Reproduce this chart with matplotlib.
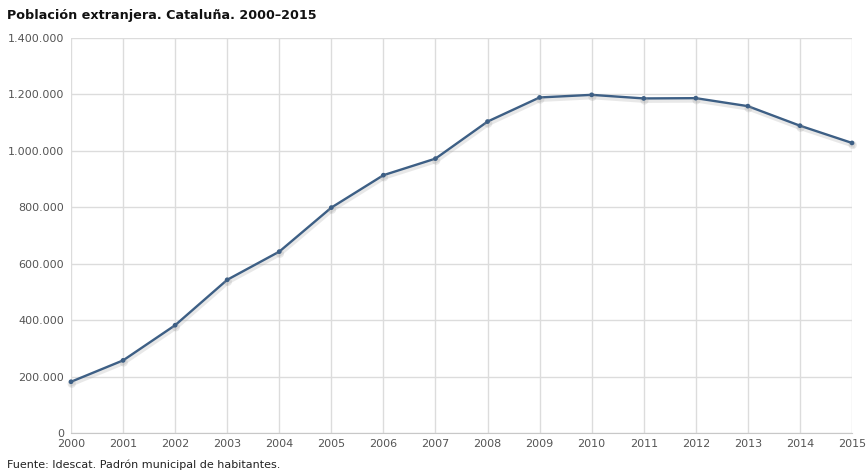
import matplotlib

matplotlib.use("Agg")
import matplotlib.pyplot as plt
import matplotlib.patheffects as pe
from matplotlib.ticker import FuncFormatter

years = list(range(2000, 2016))
poblacion = [181590, 257320, 382020, 543008, 642846, 798904, 913757, 972507,
             1103790, 1189279, 1198538, 1185852, 1186779, 1158472, 1089214, 1028036]
y_ticks = [0, 200000, 400000, 600000, 800000, 1000000, 1200000, 1400000]

title = "Población extranjera. Cataluña. 2000–2015"
source = "Fuente: Idescat. Padrón municipal de habitantes."

fig = plt.figure(figsize=(8.67, 4.75), dpi=100)
ax = fig.add_axes([71 / 867, 1 - 433 / 475, (852 - 71) / 867, (433 - 38) / 475])

ax.plot(years, poblacion, color="#3d5f85", lw=1.7, marker="o", ms=2.4,
        path_effects=[pe.SimpleLineShadow(offset=(0.5, -1.5), shadow_color="#999999", alpha=0.22, linewidth=3.5),
                      pe.Normal()], zorder=3, clip_on=False)

ax.set_xlim(2000, 2015)
ax.set_ylim(0, 1400000)
ax.set_xticks(years)
ax.set_yticks(y_ticks)
ax.yaxis.set_major_formatter(FuncFormatter(lambda v, _: f"{int(v):,}".replace(",", ".")))
ax.grid(True, color="#dcdcdc", lw=1.0)
ax.set_axisbelow(True)
for side in ("top", "right", "left"):
    ax.spines[side].set_visible(False)
ax.spines["bottom"].set_color("#c8c8c8")
ax.tick_params(axis="both", length=0, labelsize=8, labelcolor="#555555")
ax.tick_params(axis="x", pad=4)
ax.tick_params(axis="y", pad=5)
for lbl in ax.get_yticklabels():
    lbl.set_verticalalignment("center_baseline")

fig.text(7 / 867, 1 - 16 / 475, title, fontsize=9.2, fontweight="bold", color="#111111", va="center")
fig.text(7 / 867, 1 - 465 / 475, source, fontsize=8, color="#222222", va="center")

fig.savefig("out.png", dpi=100)
